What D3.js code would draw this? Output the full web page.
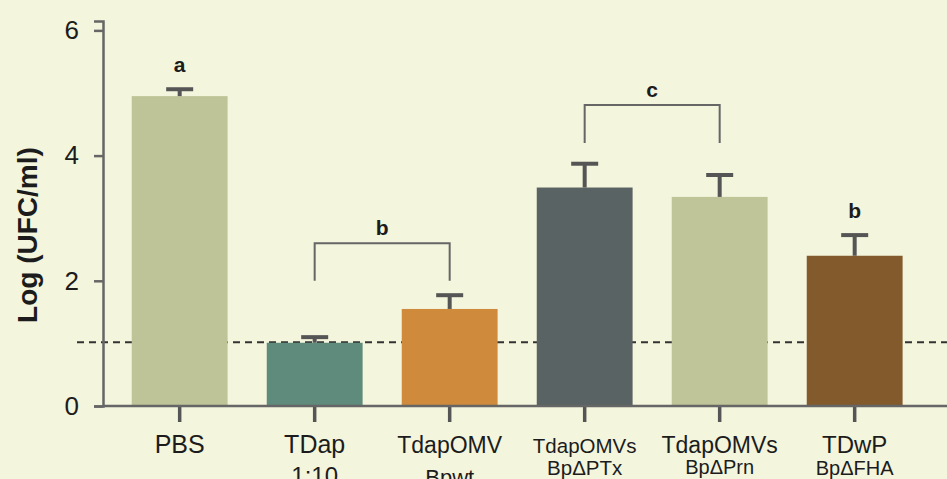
<!DOCTYPE html>
<html>
<head>
<meta charset="utf-8">
<script src="https://cdn.jsdelivr.net/npm/d3@7"></script>
<style>
  html, body { margin: 0; padding: 0; background: #f3f5dc; }
  svg { display: block; }
  text { font-family: "Liberation Sans", Arial, Helvetica, sans-serif; fill: #1c1c1c; }
</style>
</head>
<body>
<svg id="chart" width="947" height="479"></svg>
<script>
// Groups: first word is the vaccine, the rest is the strain / dilution
const categories = ["PBS", "TDap 1:10", "TdapOMV Bpwt", "TdapOMVs BpΔPTx", "TdapOMVs BpΔPrn", "TDwP BpΔFHA"];
const means = [4.95, 1.01, 1.55, 3.49, 3.34, 2.40];
const errors = [0.11, 0.09, 0.22, 0.38, 0.35, 0.33];
const letters = ["a", "", "", "", "", "b"];
const yTicks = [0, 2, 4, 6];
const detectionLimit = 1.02;
// Significance brackets between groups
const brackets = [
  { from: "TDap 1:10", to: "TdapOMV Bpwt", low: 2.0, high: 2.6, label: "b" },
  { from: "TdapOMVs BpΔPTx", to: "TdapOMVs BpΔPrn", low: 4.2, high: 4.81, label: "c" }
];

const colors = ["#bec498", "#5f8b7c", "#cf8b3b", "#5a6363", "#bfc499", "#825a2c"];
const mainSize = [25, 25, 23, 20.5, 23, 24];
const subSize  = [20, 24, 22, 20.5, 20, 20];
const subDy    = [0, 31, 32, 22, 21, 22];

const W = 947, H = 479;
const svg = d3.select("#chart");
svg.append("rect").attr("width", W).attr("height", H).attr("fill", "#f3f5dc");

const axisX = 103, baseY = 406;
const y = d3.scaleLinear().domain([0, 6.15]).range([baseY, 21]);
const x = d3.scaleBand().domain(categories)
  .range([98, 98 + 135 * (6 - 0.29 + 0.5)])
  .paddingInner(0.29).paddingOuter(0.25);
const cx = c => x(c) + x.bandwidth() / 2;

// Detection limit
svg.append("line")
  .attr("x1", 77).attr("x2", W)
  .attr("y1", y(detectionLimit)).attr("y2", y(detectionLimit))
  .attr("stroke", "#333").attr("stroke-width", 2)
  .attr("stroke-dasharray", "7,5");

// Bars
svg.append("g").selectAll("rect").data(categories).join("rect")
  .attr("x", d => x(d))
  .attr("width", x.bandwidth())
  .attr("y", (d, i) => y(means[i]))
  .attr("height", (d, i) => baseY - y(means[i]))
  .attr("fill", (d, i) => colors[i]);

// Error bars (upper only)
const eg = svg.append("g").attr("stroke", "#555").attr("stroke-width", 4);
categories.forEach((c, i) => {
  const top = y(means[i] + errors[i]);
  eg.append("line").attr("x1", cx(c)).attr("x2", cx(c))
    .attr("y1", y(means[i])).attr("y2", top);
  eg.append("line").attr("x1", cx(c) - 13.5).attr("x2", cx(c) + 13.5)
    .attr("y1", top).attr("y2", top);
});

// Group letters above bars
svg.append("g").selectAll("text").data(categories).join("text")
  .attr("x", d => cx(d))
  .attr("y", (d, i) => y(means[i] + errors[i]) - 17)
  .attr("text-anchor", "middle")
  .attr("font-size", 21).attr("font-weight", "bold")
  .text((d, i) => letters[i]);

// Brackets
brackets.forEach(b => {
  const x1 = cx(b.from), x2 = cx(b.to);
  svg.append("path")
    .attr("d", `M${x1},${y(b.low)}V${y(b.high)}H${x2}V${y(b.low)}`)
    .attr("fill", "none").attr("stroke", "#666").attr("stroke-width", 2);
  svg.append("text")
    .attr("x", (x1 + x2) / 2).attr("y", y(b.high) - 8)
    .attr("text-anchor", "middle")
    .attr("font-size", 21).attr("font-weight", "bold")
    .text(b.label);
});

// Y axis
const ya = svg.append("g").attr("transform", `translate(${axisX},0)`)
  .call(d3.axisLeft(y).tickValues(yTicks).tickFormat(d3.format("d"))
    .tickSize(9).tickSizeOuter(9).tickPadding(15));
ya.select(".domain").attr("stroke", "#666").attr("stroke-width", 2.5);
ya.selectAll(".tick line").attr("stroke", "#666").attr("stroke-width", 2.5);
ya.selectAll(".tick text").attr("font-size", 26).attr("fill", "#1c1c1c")
  .attr("font-family", "Liberation Sans, Arial, sans-serif");

// X axis
const xa = svg.append("g").attr("transform", `translate(0,${baseY})`)
  .call(d3.axisBottom(x).tickSize(16).tickSizeOuter(0).tickPadding(13));
xa.select(".domain").remove();
xa.selectAll(".tick line").attr("stroke", "#555").attr("stroke-width", 3.5);
xa.selectAll(".tick text").each(function (d, i) {
  const t = d3.select(this).text(null)
    .attr("fill", "#1c1c1c").attr("font-family", "Liberation Sans, Arial, sans-serif")
    .attr("dy", null).attr("y", 47);
  const sp = d.indexOf(" ");
  const main = sp < 0 ? d : d.slice(0, sp);
  const sub = sp < 0 ? "" : d.slice(sp + 1);
  t.append("tspan").attr("x", 0).attr("font-size", mainSize[i]).text(main);
  if (sub) t.append("tspan").attr("x", 0).attr("dy", subDy[i]).attr("font-size", subSize[i]).text(sub);
});
svg.append("line").attr("x1", axisX).attr("x2", W)
  .attr("y1", baseY).attr("y2", baseY)
  .attr("stroke", "#666").attr("stroke-width", 2.5);

// Y axis title
svg.append("text")
  .attr("transform", `translate(37,235) rotate(-90)`)
  .attr("text-anchor", "middle")
  .attr("font-size", 28).attr("font-weight", "bold")
  .text("Log (UFC/ml)");
</script>
</body>
</html>
